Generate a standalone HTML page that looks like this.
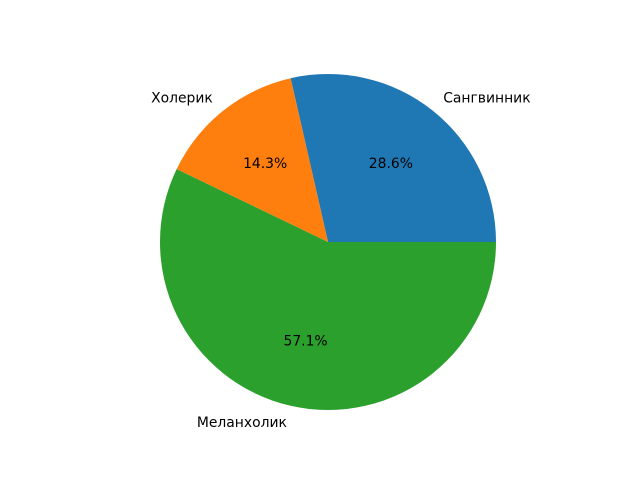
<!DOCTYPE html>
<html><head><meta charset="utf-8"><style>
body{margin:0;background:#fff}
svg text{font-family:"DejaVu Sans","Liberation Sans",sans-serif;font-size:13.9px;fill:#000}
</style></head><body>
<svg id="chart" width="640" height="480">
<rect width="640" height="480" fill="#fff"/>
</svg>
<script>
const categories = ["Сангвинник", "Холерик", "Меланхолик"];
const values = [2, 1, 4];
const colors = ["#1f77b4", "#ff7f0e", "#2ca02c"];
const svg = document.getElementById('chart');
const NS = 'http://www.w3.org/2000/svg';
const cx = 328, cy = 242, r = 168;
const total = values.reduce((a, b) => a + b, 0);
let start = 0;
values.forEach((v, i) => {
  const frac = v / total;
  const end = start + frac * 2 * Math.PI;
  const x1 = cx + r * Math.cos(start), y1 = cy - r * Math.sin(start);
  const x2 = cx + r * Math.cos(end), y2 = cy - r * Math.sin(end);
  const large = frac > 0.5 ? 1 : 0;
  const p = document.createElementNS(NS, 'path');
  p.setAttribute('d', `M${cx},${cy} L${x1},${y1} A${r},${r} 0 ${large} 0 ${x2},${y2} Z`);
  p.setAttribute('fill', colors[i]);
  
  
  svg.appendChild(p);
  const mid = (start + end) / 2;
  const lx = cx + 1.1 * r * Math.cos(mid), ly = cy - 1.1 * r * Math.sin(mid) + 1;
  const t = document.createElementNS(NS, 'text');
  t.setAttribute('x', lx); t.setAttribute('y', ly);
  t.setAttribute('text-anchor', Math.cos(mid) >= 0 ? 'start' : 'end');
  t.setAttribute('dominant-baseline', 'central');
  t.textContent = categories[i];
  
  
  svg.appendChild(t);
  const px = cx + 0.6 * r * Math.cos(mid), py = cy - 0.6 * r * Math.sin(mid) + 1;
  const q = document.createElementNS(NS, 'text');
  q.setAttribute('x', px); q.setAttribute('y', py);
  q.setAttribute('text-anchor', 'middle');
  q.setAttribute('dominant-baseline', 'central');
  q.textContent = (frac * 100).toFixed(1) + '%';
  
  
  svg.appendChild(q);
  start = end;
});
</script>
</body></html>
